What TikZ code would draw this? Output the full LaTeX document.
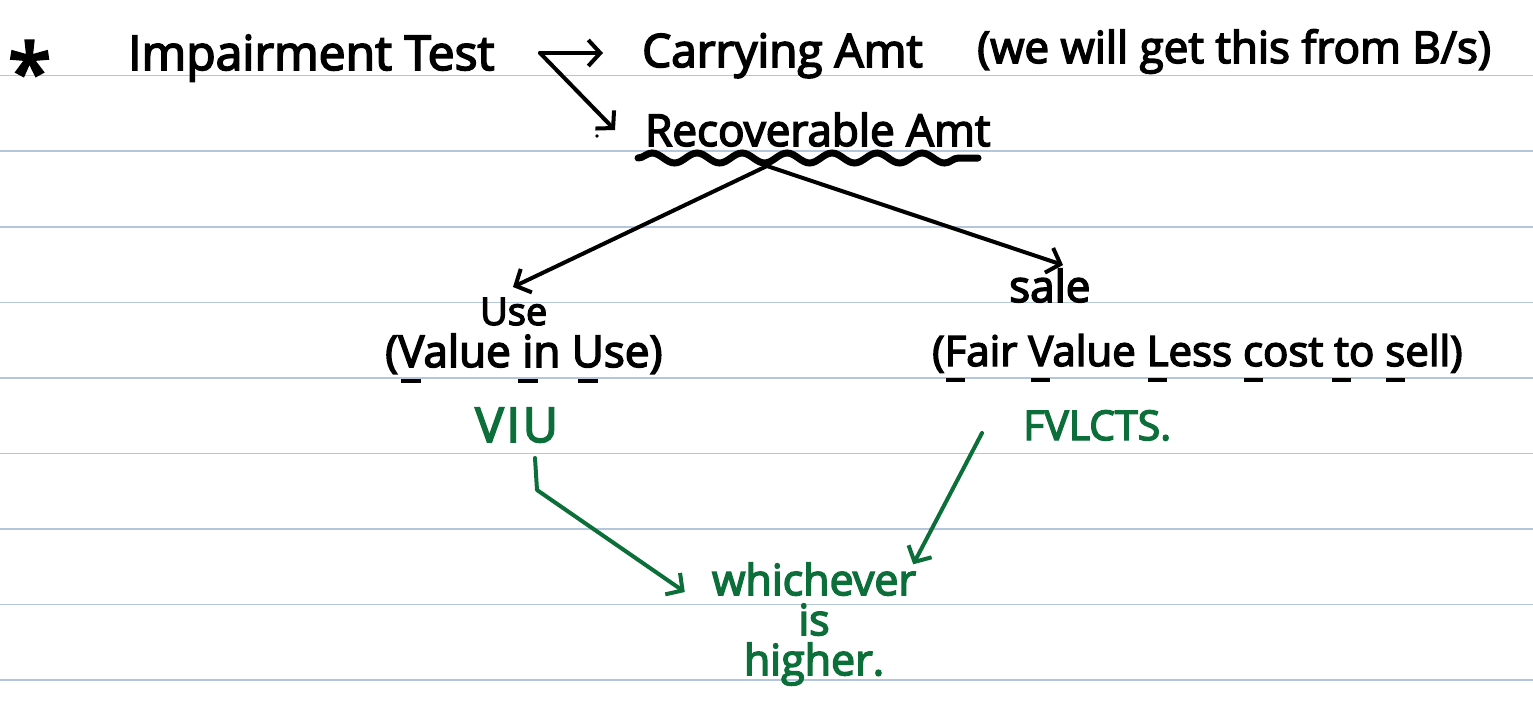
\documentclass[tikz,border=0pt]{standalone}
\usepackage{fontspec}
\setmainfont{Open Sans}[UprightFeatures={FakeBold=3.5}]
\usetikzlibrary{arrows.meta,decorations.pathmorphing,calc}
\definecolor{pen}{RGB}{12,110,56}
\definecolor{ruling}{RGB}{180,198,222}
\newcommand\fsz[1]{\fontsize{#1}{#1}\selectfont}
\newcommand\ulf[1]{\leavevmode\setbox0\hbox{#1}\rlap{\hbox to\wd0{\hss\raisebox{-16pt}{\rule{0.45em}{4.5pt}}\hss}}#1}
\tikzset{
  hw/.style={inner sep=0pt, anchor=base west, text=black},
  gw/.style={inner sep=0pt, anchor=base west, text=pen},
  arr/.style={line width=4pt, line cap=round, line join=round, -{Straight Barb[length=12pt,width=26pt]}},
  garr/.style={arr, draw=pen},
  ruleline/.style={draw=ruling, line width=1.5pt},
  wavy/.style={line width=7pt, line cap=round, decorate, decoration={snake, segment length=45pt, amplitude=5pt}}
}
\begin{document}
\begin{tikzpicture}[x=1pt, y=-1pt]
\useasboundingbox (0,0) rectangle (1533,707);
\fill[white] (0,0) rectangle (1533,707);
\foreach \yy in {75.5,151,227,302.5,378,453.5,529,604.5,680}
  \draw[ruleline] (0,\yy) -- (1533,\yy);

% top line
\node[hw, font=\fsz{78}] (star) at (8,100) {*};
\node[hw, font=\fsz{48}] (impair) at (128,70) {Impairment Test};
\node[hw, font=\fsz{46}] (carry) at (642,67) {Carrying Amt};
\node[hw, font=\fsz{44}] (note) at (977,63) {(we will get this from B/s)};
\node[hw, font=\fsz{44}] (recov) at (645,146) {Recoverable Amt};

\coordinate (fork) at ([shift={(-102,-14)}]carry.base west);
\draw[arr] (fork) -- ([shift={(-39,-14)}]carry.base west);
\draw[arr] (fork) -- ([shift={(-30,-16)}]recov.base west);
\fill (597,136) circle (1.8);

\draw[wavy] ([shift={(-7,12)}]recov.base west) -- ([shift={(333,12)}]recov.base west);

% branches
\node[hw, font=\fsz{38}] (use) at (480,325) {Use};
\node[hw, font=\fsz{44}] (usefull) at (385,367) {(\ulf{V}alue \ulf{i}n \ulf{U}se)};
\node[hw, font=\fsz{44}] (sale) at (1009,302) {sale};
\node[hw, font=\fsz{42}] (salefull) at (932,366) {(\ulf{F}air \ulf{V}alue \ulf{L}ess \ulf{c}ost \ulf{t}o \ulf{s}ell)};

\coordinate (apex) at ([shift={(122,20)}]recov.base west);
\draw[arr] (apex) -- ([shift={(33,-38)}]use.base west);
\draw[arr] (apex) -- ([shift={(54,-37)}]sale.base west);

% abbreviations
\node[gw, font={\fsz{48}\addfontfeatures{LetterSpace=6}}] (viu) at (475,442) {VIU};
\node[gw, font=\fsz{41}] (fvl) at (1023,440) {FVLCTS.};

\node[inner sep=0pt, text=pen, align=center, font={\fontsize{43}{40}\selectfont}] (which) at (814,624) {whichever\\is\hspace*{40pt}\\higher.};

\draw[garr] ([shift={(60,16)}]viu.base west) -- ([shift={(62,48)}]viu.base west) -- ([shift={(-27,-32)}]which.west);
\draw[garr] ([shift={(-41,-7)}]fvl.base west) -- ([shift={(-3,2)}]which.north east);
\end{tikzpicture}
\end{document}
